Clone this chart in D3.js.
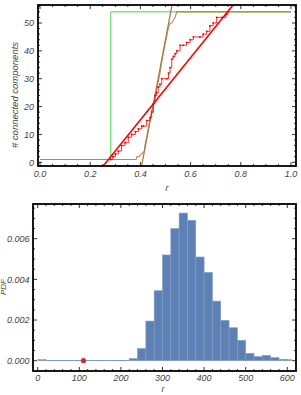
<!DOCTYPE html>
<html><head><meta charset="utf-8">
<script src="https://cdn.jsdelivr.net/npm/d3@7"></script>
<style>
body{margin:0;background:#fff;}
svg text{font-family:"Liberation Sans",Arial,sans-serif;font-style:italic;fill:#444;}
</style></head>
<body><svg id="c" width="301" height="395"></svg>
<script>
// ---------- data: top chart ----------
const greenX = [0.282, 0.282, 1.0];
const greenY = [1, 54, 54];
const brownX = [0, 0.383, 0.385, 0.395, 0.405, 0.416, 0.418, 0.425, 0.431, 0.442, 0.452, 0.461, 0.469, 0.478, 0.487, 0.495, 0.502, 0.511, 0.518, 0.525, 0.531, 0.538, 0.545, 1.0];
const brownY = [1, 1, 2, 2, 3, 4, 6, 9, 12, 17, 21, 24, 28, 32, 37, 41, 44, 48, 50, 50, 51, 52, 54, 54];
const redX = [0.282, 0.290, 0.300, 0.312, 0.325, 0.339, 0.352, 0.365, 0.380, 0.392, 0.405, 0.412, 0.425, 0.438, 0.445, 0.452, 0.458, 0.465, 0.471, 0.478, 0.485, 0.505, 0.512, 0.518, 0.525, 0.531, 0.538, 0.545, 0.558, 0.571, 0.584, 0.598, 0.611, 0.637, 0.650, 0.664, 0.677, 0.690, 0.704, 0.725, 0.740, 0.748];
const redY = [1, 2, 3, 4, 6, 7, 9, 10, 11, 12, 13, 13, 15, 16, 18, 21, 24, 25, 27, 28, 30, 30, 32, 34, 37, 38, 39, 40, 42, 42, 43, 44, 45, 45, 46, 47, 49, 50, 52, 52, 53, 54];
const redFit = [[0.2, -7.1], [0.8, 59.9]];
const brownFit = [[0.39, -8.4], [0.535, 60.8]];
const topXTicks = [0, 0.2, 0.4, 0.6, 0.8, 1.0];
const topYTicks = [0, 10, 20, 30, 40, 50];

// ---------- data: bottom chart ----------
const binStart = [0,20,40,60,80,100,120,140,160,180,200,220,240,260,280,300,320,340,360,380,400,420,440,460,480,500,520,540,560,580,600];
const binValue = [0.00005,0.00001,0.00001,0.00001,0.00001,0.00001,0.00001,0.00001,0.00001,0.00001,0.00001,0.0001,0.0006,0.00195,0.00344,0.0052,0.0065,0.00726,0.0069,0.0051,0.00434,0.00293,0.00198,0.00162,0.001,0.00036,0.0002,0.00026,0.00015,0.00007,0.00005];
const binWidth = 20;
const lastBinEnd = 610;
const markX = [110];
const markY = [0];
const botXTicks = [0, 100, 200, 300, 400, 500, 600];
const botYTicks = [0, 0.002, 0.004, 0.006];

const svg = d3.select("#c");

function frame(g, x0, x1, y0, y1, xs, ys, xMinor, yMinor, xMajor, yMajor) {
  const tk = g.append("g").attr("stroke", "#000").attr("stroke-width", 0.8);
  xMinor.forEach(v => {
    const big = xMajor.some(m => Math.abs(m - v) < 1e-9);
    const L = big ? 4 : 2;
    tk.append("line").attr("x1", xs(v)).attr("x2", xs(v)).attr("y1", y1).attr("y2", y1 - L);
    tk.append("line").attr("x1", xs(v)).attr("x2", xs(v)).attr("y1", y0).attr("y2", y0 + L);
  });
  yMinor.forEach(v => {
    const big = yMajor.some(m => Math.abs(m - v) < 1e-9);
    const L = big ? 4 : 2;
    tk.append("line").attr("y1", ys(v)).attr("y2", ys(v)).attr("x1", x0).attr("x2", x0 + L);
    tk.append("line").attr("y1", ys(v)).attr("y2", ys(v)).attr("x1", x1).attr("x2", x1 - L);
  });
  g.append("rect").attr("x", x0).attr("y", y0).attr("width", x1 - x0).attr("height", y1 - y0)
    .attr("fill", "none").attr("stroke", "#000").attr("stroke-width", 1.8);
}

// ================= TOP CHART =================
{
  const L = 38, R = 296, T = 5, B = 166;
  const x = d3.scaleLinear().domain([0, 1]).range([40, 291]);
  const y = d3.scaleLinear().domain([0, 50]).range([162.3, 23]);
  const g = svg.append("g");
  g.append("clipPath").attr("id", "clipT").append("rect").attr("x", L).attr("y", T).attr("width", R - L).attr("height", B - T);
  const p = g.append("g").attr("clip-path", "url(#clipT)");
  const line = d3.line().x(d => x(d[0])).y(d => y(d[1]));

  const gData = greenX.map((v, i) => [v, greenY[i]]);
  p.append("path").attr("d", line(gData)).attr("fill", "none").attr("stroke", "#44dd44").attr("stroke-width", 1);

  const bData = brownX.map((v, i) => [v, brownY[i]]);
  p.append("path").attr("d", line(bData)).attr("fill", "none").attr("stroke", "#a8743c").attr("stroke-width", 1.1).attr("stroke-opacity", 0.85);
  p.append("path").attr("d", line(brownFit)).attr("fill", "none").attr("stroke", "#a87840").attr("stroke-width", 1.2);

  const rData = redX.map((v, i) => [v, redY[i]]);
  p.append("path").attr("d", d3.line().curve(d3.curveStepAfter).x(d => x(d[0])).y(d => y(d[1]))(rData))
    .attr("fill", "none").attr("stroke", "#ff0000").attr("stroke-width", 0.8);
  p.selectAll(".rd").data(rData).enter().append("rect")
    .attr("x", d => x(d[0]) - 0.8).attr("y", d => y(d[1]) - 0.8).attr("width", 1.6).attr("height", 1.6).attr("fill", "#ee0000");
  p.append("path").attr("d", line(redFit)).attr("fill", "none").attr("stroke", "#ff0000").attr("stroke-width", 1.6);

  frame(g, L, R, T, B, x, y, d3.range(0, 1.0001, 0.05), d3.range(0, 57, 2), topXTicks, topYTicks);

  g.selectAll(".xl").data(topXTicks).enter().append("text")
    .attr("x", d => x(d)).attr("y", 177).attr("text-anchor", "middle").attr("font-size", 9)
    .text(d => d3.format(".1f")(d));
  g.selectAll(".yl").data(topYTicks).enter().append("text")
    .attr("x", 34).attr("y", d => y(d) + 3.2).attr("text-anchor", "end").attr("font-size", 9)
    .text(d => d);
  g.append("text").attr("x", 167).attr("y", 191).attr("text-anchor", "middle").attr("font-size", 9).text("r");
  g.append("text").attr("transform", "translate(18,95) rotate(-90)").attr("text-anchor", "middle")
    .attr("font-size", 9.5).text("# connected components");
}

// ================= BOTTOM CHART =================
{
  const L = 33, R = 296, T = 204, B = 371;
  const x = d3.scaleLinear().domain([0, 600]).range([37.7, 287.3]);
  const y = d3.scaleLinear().domain([0, 0.006]).range([360.7, 238.7]);
  const g = svg.append("g");
  g.append("clipPath").attr("id", "clipB").append("rect").attr("x", L).attr("y", T).attr("width", R - L).attr("height", B - T);
  const p = g.append("g").attr("clip-path", "url(#clipB)");

  p.selectAll(".bar").data(binStart).enter().append("rect")
    .attr("x", d => x(d))
    .attr("width", (d, i) => x(i === binStart.length - 1 ? lastBinEnd : d + binWidth) - x(d))
    .attr("y", (d, i) => y(binValue[i]))
    .attr("height", (d, i) => y(0) - y(binValue[i]))
    .attr("fill", "#5e81b5").attr("stroke", "#7f9cc6").attr("stroke-width", 0.6);

  p.selectAll(".pt").data(markX).enter().append("circle")
    .attr("cx", d => x(d)).attr("cy", (d, i) => y(markY[i])).attr("r", 2.6).attr("fill", "#c8303a");

  frame(g, L, R, T, B, x, y, d3.range(0, 621, 20), d3.range(0, 0.0076, 0.0005), botXTicks, botYTicks);

  g.selectAll(".xl").data(botXTicks).enter().append("text")
    .attr("x", d => x(d)).attr("y", 381).attr("text-anchor", "middle").attr("font-size", 9)
    .text(d => d);
  g.selectAll(".yl").data(botYTicks).enter().append("text")
    .attr("x", 29.5).attr("y", d => y(d) + 3.2).attr("text-anchor", "end").attr("font-size", 9)
    .text(d => d3.format(".3f")(d));
  g.append("text").attr("x", 163).attr("y", 392).attr("text-anchor", "middle").attr("font-size", 8.5).text("r");
  g.append("text").attr("transform", "translate(6,287) rotate(-90)").attr("text-anchor", "middle")
    .attr("font-size", 8).text("PDF");
}
</script></body></html>
